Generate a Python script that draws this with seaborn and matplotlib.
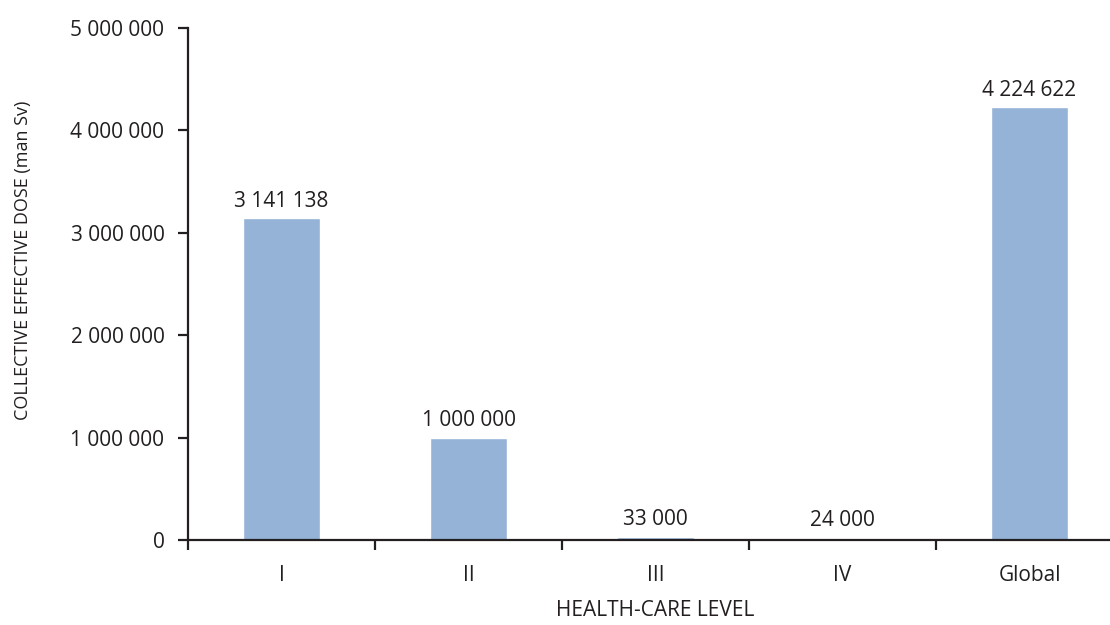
import numpy as np
import matplotlib
matplotlib.use("Agg")
import matplotlib.pyplot as plt
import seaborn as sns
import pandas as pd

# data
levels = ["I", "II", "III", "IV", "Global"]
dose = [3141138, 1000000, 33000, 24000, 4224622]
yticks = [0, 1000000, 2000000, 3000000, 4000000, 5000000]

sns.set_style("white")
plt.rcParams['font.family'] = ['Open Sans', 'DejaVu Sans']
plt.rcParams['font.size'] = 15

ink = "#231f20"


def fmt(v):
    return "{:,}".format(int(v)).replace(",", " ")


df = pd.DataFrame({"level": levels, "dose": dose})

fig = plt.figure(figsize=(11.1, 6.25), dpi=100)
ax = fig.add_axes([188 / 1110, 85 / 625, 935 / 1110, 512 / 625])

sns.barplot(data=df, x="level", y="dose", color="#95b3d7", saturation=1,
            width=0.41, ax=ax)

ax.set_xlim(-0.5, len(levels) - 0.5)
ax.set_ylim(0, 5000000)
ax.set_yticks(yticks)
ax.set_yticklabels([fmt(v) for v in yticks], color=ink, fontsize=15)

# x tick marks at category boundaries, labels centred under bars
ax.set_xticks(np.arange(len(levels) + 1) - 0.5)
ax.set_xticklabels([])
ax.set_xticks(np.arange(len(levels)), minor=True)
ax.set_xticklabels(levels, minor=True, color=ink, fontsize=15)
ax.tick_params(axis="x", which="major", direction="out", length=7, width=1.6,
               color=ink, bottom=True)
ax.tick_params(axis="x", which="minor", length=0, pad=18)
ax.tick_params(axis="y", direction="out", length=7, width=1.6,
               color=ink, left=True, pad=10)

for i, v in enumerate(dose):
    ax.text(i, v + 60000, fmt(v), ha="center", va="bottom", fontsize=15,
            color=ink)

sns.despine(ax=ax)
for s in ["left", "bottom"]:
    ax.spines[s].set_linewidth(1.6)
    ax.spines[s].set_color(ink)

ax.set_xlabel("HEALTH-CARE LEVEL", labelpad=10, color=ink, fontsize=15)
ax.set_ylabel("COLLECTIVE EFFECTIVE DOSE (man Sv)", color=ink, fontsize=13)
ax.yaxis.set_label_coords(-0.167, 0.547)

fig.savefig("out.png", dpi=100)
